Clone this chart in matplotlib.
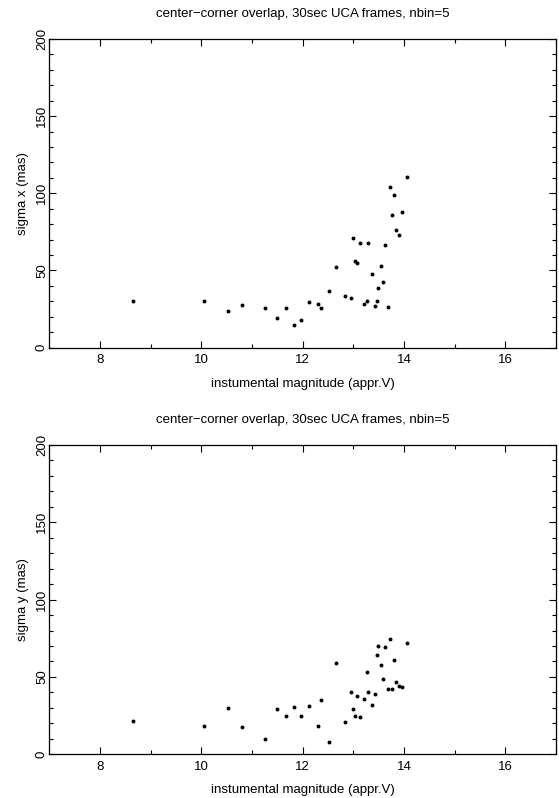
import numpy as np
import matplotlib.pyplot as plt
from matplotlib.ticker import MultipleLocator

plt.rcParams["font.family"] = ["Liberation Sans", "DejaVu Sans"]

TITLE = "center\u2212corner overlap, 30sec UCA frames, nbin=5"
XLABEL = "instumental magnitude (appr.V)"

# instrumental magnitude of each star (same stars in both panels)
mag = [8.65, 10.05, 10.53, 10.81, 11.25, 11.49, 11.68, 11.82, 11.96, 12.13,
       12.30, 12.37, 12.52, 12.66, 12.84, 12.95, 13.00, 13.03, 13.07, 13.14,
       13.21, 13.26, 13.29, 13.36, 13.42, 13.46, 13.49, 13.55, 13.59, 13.63,
       13.68, 13.72, 13.77, 13.80, 13.84, 13.90, 13.96, 14.06]

sigma_x = [30.3, 30.1, 24.0, 27.5, 25.5, 19.0, 25.5, 14.3, 18.0, 29.7,
           28.4, 25.5, 36.8, 52.4, 33.6, 32.3, 71.2, 55.8, 54.5, 67.5,
           28.4, 30.3, 67.5, 47.6, 27.1, 29.9, 38.5, 52.8, 42.2, 66.4,
           26.0, 104.1, 85.7, 98.7, 76.4, 72.7, 88.1, 110.4]

sigma_y = [21.5, 18.5, 29.7, 17.8, 10.1, 29.5, 24.6, 30.6, 25.0, 31.0,
           18.3, 35.1, 7.8, 58.8, 20.7, 40.5, 29.3, 24.8, 37.9, 24.3,
           35.6, 53.2, 40.5, 32.1, 38.8, 64.2, 70.2, 57.5, 48.9, 69.6,
           42.4, 74.4, 42.4, 61.2, 46.8, 44.2, 43.3, 72.0]

fig = plt.figure(figsize=(5.59, 7.98), dpi=100)
ax_x = fig.add_axes([0.0882, 0.5645, 0.9065, 0.3866])
ax_y = fig.add_axes([0.0882, 0.0548, 0.9065, 0.3876])

FS = 9.5
for ax, sig, ylab in [(ax_x, sigma_x, "sigma x (mas)"), (ax_y, sigma_y, "sigma y (mas)")]:
    ax.scatter(mag, sig, s=8, color="black", linewidths=0)
    ax.set_xlim(7, 17)
    ax.set_ylim(0, 200)
    ax.xaxis.set_major_locator(MultipleLocator(2))
    ax.xaxis.set_minor_locator(MultipleLocator(1))
    ax.yaxis.set_major_locator(MultipleLocator(50))
    ax.yaxis.set_minor_locator(MultipleLocator(10))
    ax.tick_params(which="both", direction="in", top=True, right=True,
                   labelsize=FS, width=0.8)
    ax.tick_params(which="major", length=5)
    ax.tick_params(axis="x", which="major", pad=5)
    ax.tick_params(axis="y", which="major", pad=1)
    ax.tick_params(which="minor", length=3)
    for lab in ax.get_yticklabels():
        lab.set_rotation(90)
        lab.set_va("center")
    for s in ax.spines.values():
        s.set_linewidth(0.9)
    ax.set_title(TITLE, fontsize=FS, pad=16)
    ax.set_xlabel(XLABEL, fontsize=FS, labelpad=8)
    ax.set_ylabel(ylab, fontsize=FS, labelpad=5)

fig.savefig("out.png", dpi=100)
